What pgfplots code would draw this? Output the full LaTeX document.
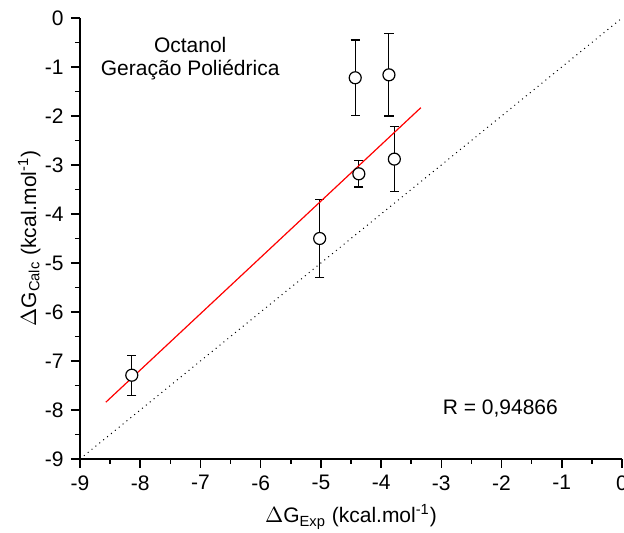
\documentclass[border=0pt]{standalone}
\usepackage{fontspec}
\setmainfont{Liberation Sans}
\usepackage{pgfplots}
\pgfplotsset{compat=1.18}
\pgfplotstableread{
x y e
-8.14 -7.29 0.41
-5.02 -4.50 0.79
-4.43 -1.22 0.77
-4.37 -3.18 0.27
-3.87 -1.16 0.84
-3.78 -2.88 0.66
}\datatable
\begin{document}
\fontsize{10.5}{12.6}\selectfont
\begin{tikzpicture}
\begin{axis}[
  scale only axis, width=271pt, height=220.5pt,
  xmin=-9, xmax=0, ymin=-9, ymax=0,
  axis x line*=bottom, axis y line*=left,
  x axis line style={-}, y axis line style={-},
  axis line style={line width=0.75pt, black},
  xtick={-9,-8,...,0}, ytick={-9,-8,...,0},
  minor x tick num=1, minor y tick num=1,
  tick align=outside,
  major tick length=4.5pt, minor tick length=2.5pt,
  every tick/.style={black, line width=0.75pt},
  /pgf/number format/assume math mode=true,
  tick label style={font=\fontsize{10.5}{12.6}\selectfont},
  xlabel={$\Delta$G\textsubscript{Exp} (kcal.mol\textsuperscript{-1})},
  ylabel={$\Delta$G\textsubscript{Calc} (kcal.mol\textsuperscript{-1})},
  ylabel shift=-5pt,
  label style={font=\fontsize{10.5}{12.6}\selectfont},
  clip=false,
]
\addplot[black, dotted, line width=0.5pt] coordinates {(-9,-9) (0,0)};
\addplot[black, only marks, mark=*, mark size=3pt, mark options={fill=white, line width=0.6pt},
  error bars/.cd, y dir=both, y explicit,
  error bar style={line width=0.55pt, black},
  error mark options={rotate=90, mark size=2.3pt, line width=0.55pt, black}]
  table[x=x, y=y, y error=e] {\datatable};
\addplot[red, line width=0.6pt] coordinates {(-8.57,-7.84) (-3.34,-1.83)};
\node at (axis cs:-7.17,-0.56) {Octanol};
\node at (axis cs:-7.17,-1.07) {Geração Poliédrica};
\node at (axis cs:-2.02,-7.96) {R = 0,94866};
\end{axis}
\pgfresetboundingbox
\path[use as bounding box] ([shift={(-40pt,-37pt)}]current axis.south west) rectangle ([shift={(1pt,9pt)}]current axis.north east);
\end{tikzpicture}
\end{document}
